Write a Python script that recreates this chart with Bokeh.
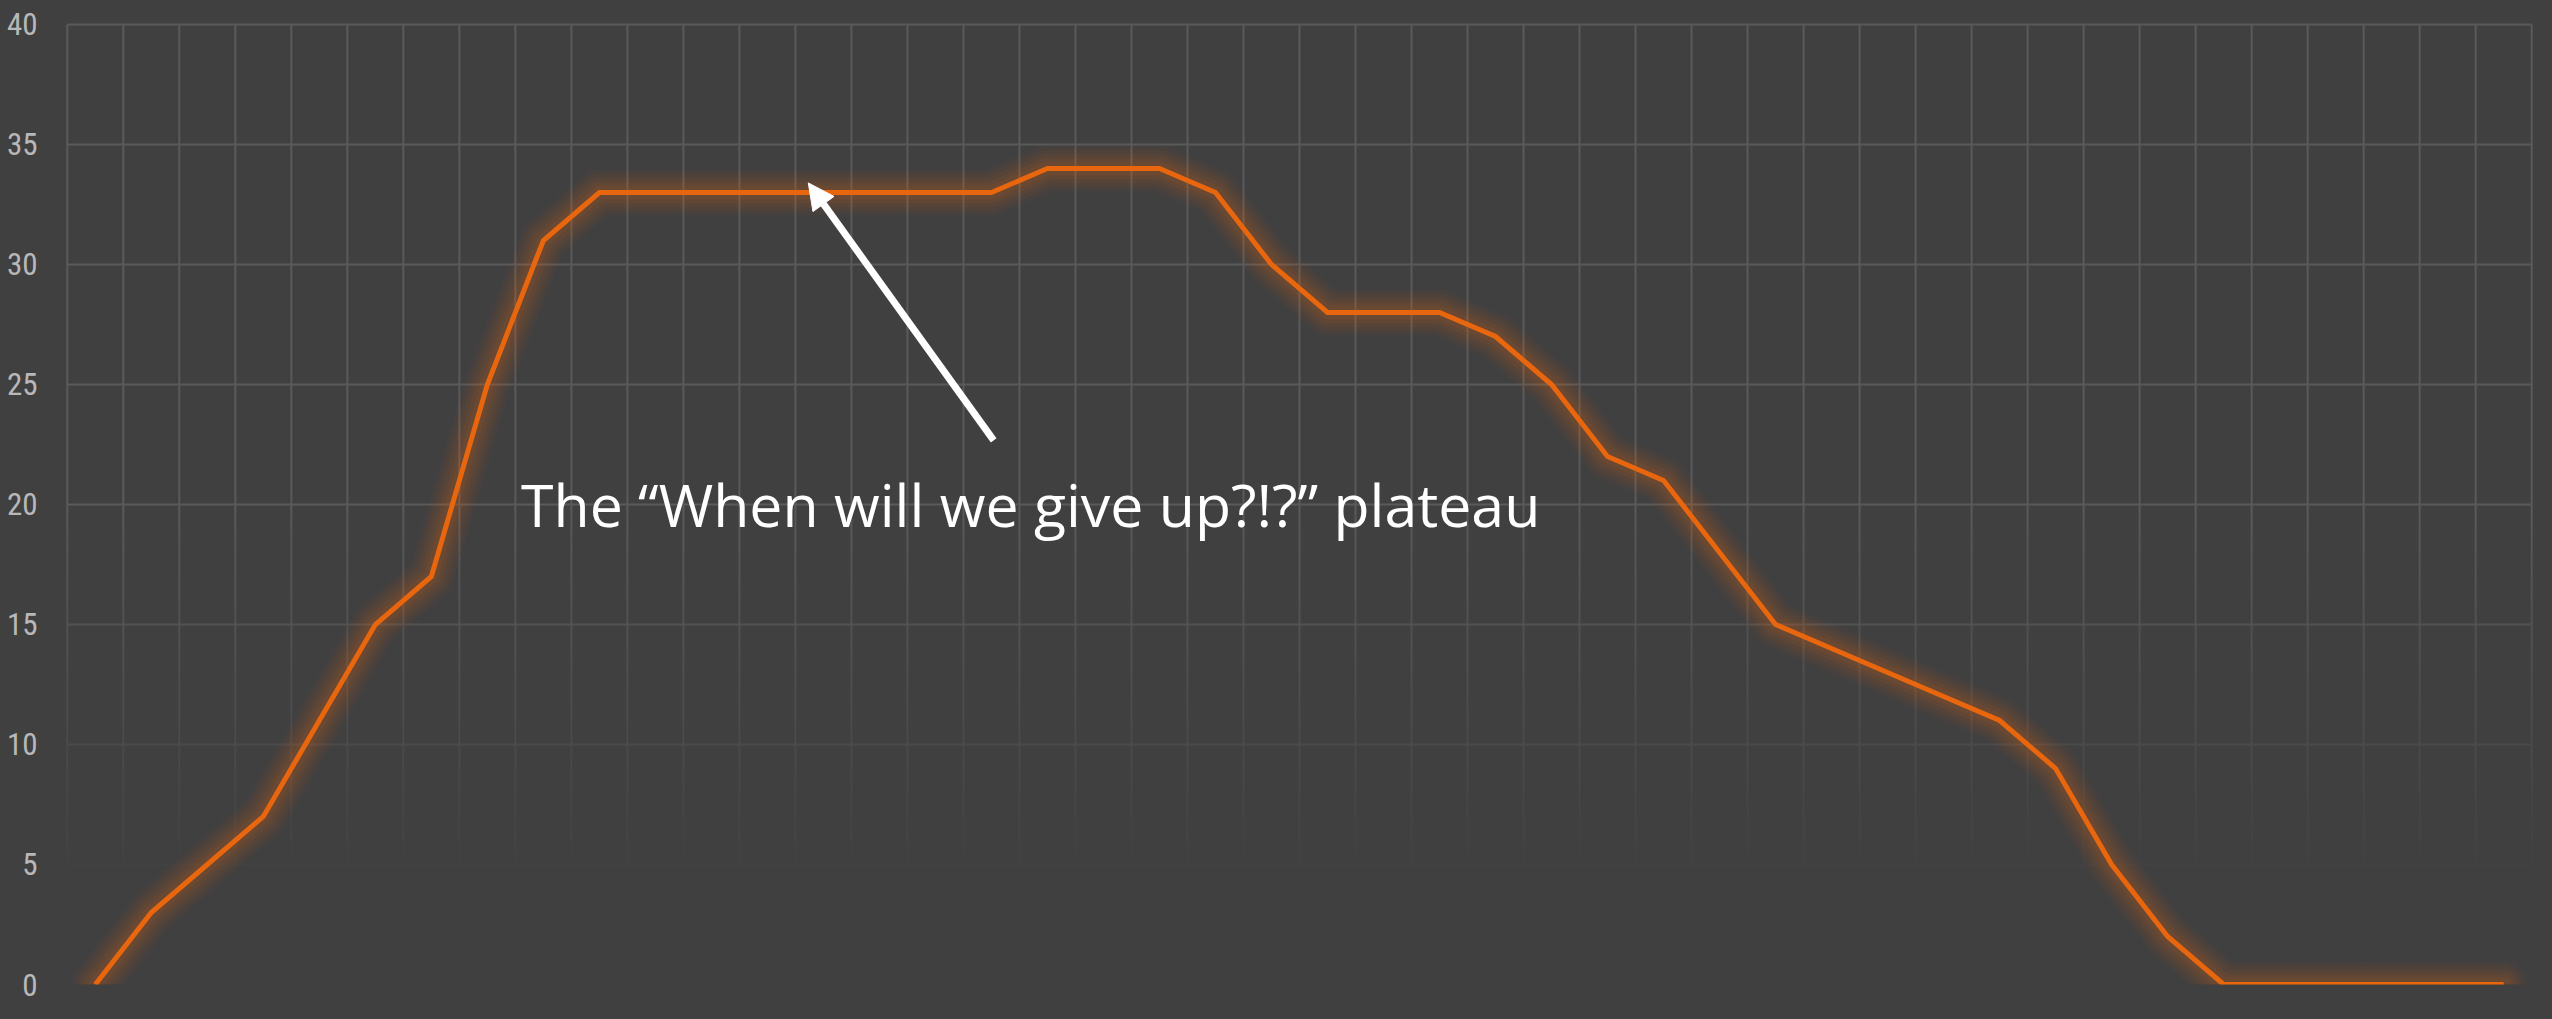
from bokeh.plotting import figure
from bokeh.models import Range1d, FixedTicker, Arrow, NormalHead, Label
from bokeh.embed import file_html
from bokeh.resources import INLINE

# ---- data ----
period = list(range(44))
count = [0, 3, 5, 7, 11, 15, 17, 25, 31, 33,
         33, 33, 33, 33, 33, 33, 33, 34, 34, 34,
         33, 30, 28, 28, 28, 27, 25, 22, 21, 18,
         15, 14, 13, 12, 11, 9, 5, 2, 0, 0,
         0, 0, 0, 0]
y_ticks = [0, 5, 10, 15, 20, 25, 30, 35, 40]
annotation_text = "The \u201cWhen will we give up?!?\u201d plateau"

# ---- style ----
BG = "#404040"
GRID_FULL = (0x5a, 0x5a, 0x5a)
BG_RGB = (0x40, 0x40, 0x40)
ORANGE = "#e8660e"

def fade(yv):
    f = min(max((yv - 4.0) / 16.0, 0.0), 1.0)
    c = [int(round(BG_RGB[k] + (GRID_FULL[k] - BG_RGB[k]) * f)) for k in range(3)]
    return "#%02x%02x%02x" % tuple(c)

p = figure(width=2552, height=1019,
           x_range=Range1d(-0.55, 43.55), y_range=Range1d(0, 40.2083),
           output_backend="svg", toolbar_location=None,
           min_border_left=64, min_border_right=18,
           min_border_top=19, min_border_bottom=35,
           background_fill_color=BG, border_fill_color=BG)
p.outline_line_color = None
p.xgrid.visible = False
p.ygrid.visible = False
p.xaxis.visible = False

ya = p.yaxis[0]
ya.ticker = FixedTicker(ticks=y_ticks)
ya.axis_line_color = None
ya.major_tick_line_color = None
ya.minor_tick_line_color = None
ya.major_tick_out = 0
ya.major_tick_in = 0
ya.major_label_standoff = 27
ya.major_label_text_font = "Roboto Condensed, DejaVu Sans Condensed, Liberation Sans Narrow, Roboto, sans-serif"
ya.major_label_text_font_size = "31px"
ya.major_label_text_color = "#b8b8b8"

# ---- fading grid ----
x0s, y0s, x1s, y1s, cols = [], [], [], [], []
n = len(period)
ymax = y_ticks[-1]
steps = [i * 0.5 for i in range(41)]  # 0 .. 20
for k in range(n + 1):
    xv = k - 0.5
    for j in range(len(steps) - 1):
        a, b = steps[j], steps[j + 1]
        x0s.append(xv); x1s.append(xv); y0s.append(a); y1s.append(b)
        cols.append(fade((a + b) / 2))
    x0s.append(xv); x1s.append(xv); y0s.append(20); y1s.append(ymax)
    cols.append(fade(30))
for yv in y_ticks:
    x0s.append(-0.5); x1s.append(n - 0.5); y0s.append(yv); y1s.append(yv)
    cols.append(fade(yv))
p.segment(x0=x0s, y0=y0s, x1=x1s, y1=y1s, line_color=cols, line_width=2)

# ---- glow + line ----
for w, a in [(46, 0.04), (38, 0.05), (30, 0.06), (22, 0.07), (14, 0.08)]:
    p.line(period, count, line_color=ORANGE, line_alpha=a, line_width=w,
           line_join="round", line_cap="round")
p.line(period, count, line_color=ORANGE, line_width=5, line_join="miter")

# ---- annotation ----
p.add_layout(Arrow(end=NormalHead(size=26, fill_color="white", line_color="white"),
                   x_start=16.04, y_start=22.67, x_end=12.73, y_end=33.4,
                   line_color="white", line_width=7))
p.add_layout(Label(x=7.6, y=20, text=annotation_text, text_font="Open Sans",
                   text_font_size="59px", text_color="white",
                   text_baseline="alphabetic", text_align="left"))

html = file_html(p, INLINE)
html = html.replace("<head>", "<head><style>html,body{background:#404040;}</style>", 1)
open("out.html", "w").write(html)
